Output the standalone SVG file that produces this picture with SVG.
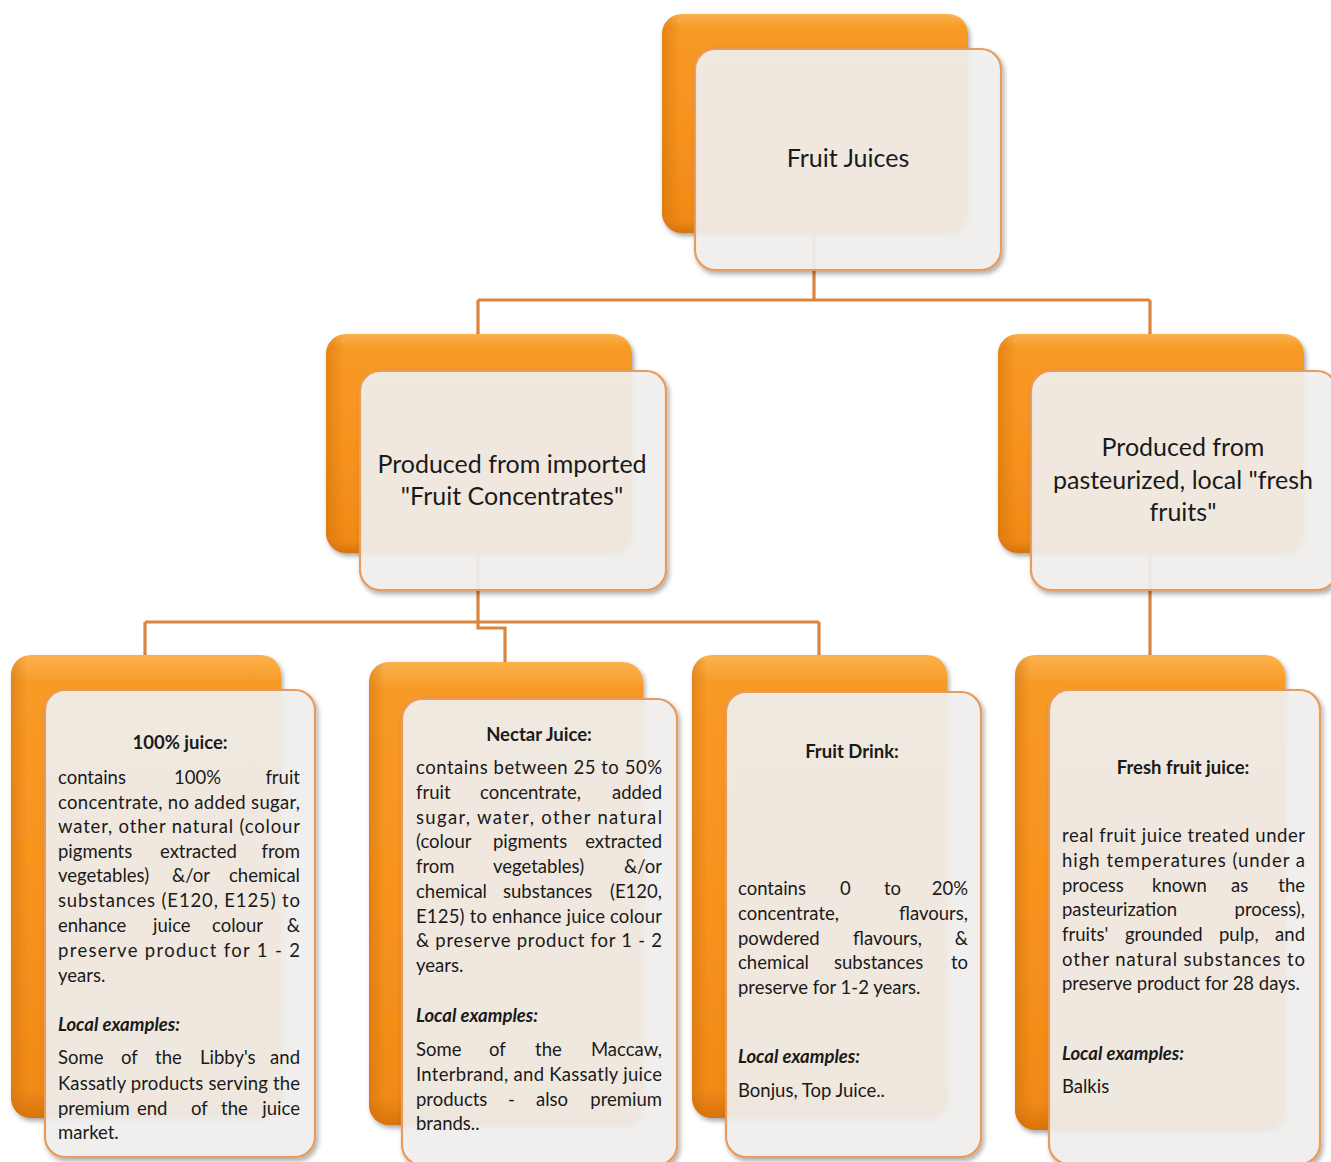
<svg xmlns="http://www.w3.org/2000/svg" width="1331" height="1162" viewBox="0 0 1331 1162">
<defs>
<linearGradient id="og" x1="0" y1="0" x2="0" y2="1">
<stop offset="0" stop-color="#fbb24e"/>
<stop offset="0.06" stop-color="#f89a26"/>
<stop offset="0.5" stop-color="#f7931e"/>
<stop offset="0.94" stop-color="#ef8a17"/>
<stop offset="1" stop-color="#d8730d"/>
</linearGradient>
<linearGradient id="oh" x1="0" y1="0" x2="1" y2="0">
<stop offset="0" stop-color="#c96a0a" stop-opacity="0.45"/>
<stop offset="0.06" stop-color="#c96a0a" stop-opacity="0"/>
<stop offset="1" stop-color="#c96a0a" stop-opacity="0"/>
</linearGradient>
<filter id="sh" x="-10%" y="-10%" width="125%" height="125%">
<feGaussianBlur in="SourceAlpha" stdDeviation="2.5"/>
<feOffset dx="1.5" dy="3" result="b"/>
<feComponentTransfer><feFuncA type="linear" slope="0.35"/></feComponentTransfer>
<feMerge><feMergeNode/><feMergeNode in="SourceGraphic"/></feMerge>
</filter>
</defs>
<style>
.back{fill:url(#og);filter:url(#sh)}
.backs{fill:url(#oh)}
.front{fill:#f3f2f1;fill-opacity:0.9;stroke:#e79b5b;stroke-width:2.2;filter:url(#sh)}
.con{fill:none;stroke:#d9843f;stroke-width:3.2}
text{font-family:Lato,"Liberation Sans",sans-serif;fill:#1a1a1a}
.h{font-size:25px;text-anchor:middle}
.t{font-size:18.5px;font-weight:bold;text-anchor:middle}
.b{font-size:18.5px}
.e{text-anchor:end}
.le{font-size:18.5px;font-weight:bold;font-style:italic}
</style>

<g id="connectors">
<path class="con" d="M814 233 V300 M478 300 H1150 M478 300 V334 M1150 300 V334"/>
<path class="con" d="M478 553 V628 H505 V662 M145 622 H819 M145 622 V655 M819 622 V655"/>
<path class="con" d="M1150 553 V655"/>
</g>

<g id="node-fruit-juices">
<rect class="back" x="662" y="14" width="306" height="219" rx="20"/>
<rect class="backs" x="662" y="14" width="306" height="219" rx="20"/>
<rect class="front" x="695" y="49" width="306" height="221" rx="20"/>
<text class="h" x="848" y="167">Fruit Juices</text>
</g>

<g id="node-concentrates">
<rect class="back" x="326" y="334" width="306" height="219" rx="20"/>
<rect class="backs" x="326" y="334" width="306" height="219" rx="20"/>
<rect class="front" x="360" y="371" width="306" height="219" rx="20"/>
<text class="h" x="512" y="473">Produced from imported</text>
<text class="h" x="512" y="505">"Fruit Concentrates"</text>
</g>

<g id="node-fresh">
<rect class="back" x="998" y="334" width="306" height="219" rx="20"/>
<rect class="backs" x="998" y="334" width="306" height="219" rx="20"/>
<rect class="front" x="1031" y="371" width="306" height="219" rx="20"/>
<text class="h" x="1183" y="456">Produced from</text>
<text class="h" x="1183" y="489">pasteurized, local "fresh</text>
<text class="h" x="1183" y="521">fruits"</text>
</g>

<g id="node-100-juice">
<rect class="back" x="11" y="655" width="270" height="463" rx="20"/>
<rect class="backs" x="11" y="655" width="270" height="463" rx="20"/>
<rect class="front" x="45" y="690" width="270" height="467" rx="20"/>
<text class="t" x="180" y="749">100% juice:</text>
<text class="b" y="784"><tspan x="58">contains</tspan><tspan x="174">100%</tspan></text>
<text class="b e" x="300" y="784">fruit</text>
<text class="b" x="58" y="809" textLength="242" lengthAdjust="spacing">concentrate, no added sugar,</text>
<text class="b" x="58" y="833" textLength="242" lengthAdjust="spacing">water, other natural (colour</text>
<text class="b" y="858"><tspan x="58">pigments</tspan><tspan x="160">extracted</tspan></text>
<text class="b e" x="300" y="858">from</text>
<text class="b" y="882"><tspan x="58">vegetables)</tspan><tspan x="172">&amp;/or</tspan></text>
<text class="b e" x="300" y="882">chemical</text>
<text class="b" x="58" y="907" textLength="242" lengthAdjust="spacing">substances (E120, E125) to</text>
<text class="b" y="932"><tspan x="58">enhance</tspan><tspan x="153">juice</tspan><tspan x="212">colour</tspan></text>
<text class="b e" x="300" y="932">&amp;</text>
<text class="b" x="58" y="957" textLength="242" lengthAdjust="spacing">preserve product for 1 - 2</text>
<text class="b" x="58" y="982">years.</text>
<text class="le" x="58" y="1031">Local examples:</text>
<text class="b" y="1064"><tspan x="58">Some</tspan><tspan x="121">of</tspan><tspan x="155">the</tspan><tspan x="200">Libby's</tspan></text>
<text class="b e" x="300" y="1064">and</text>
<text class="b" x="58" y="1090" textLength="242" lengthAdjust="spacing">Kassatly products serving the</text>
<text class="b" y="1115"><tspan x="58">premium</tspan><tspan x="137">end</tspan><tspan x="191">of</tspan><tspan x="221">the</tspan></text>
<text class="b e" x="300" y="1115">juice</text>
<text class="b" x="58" y="1139">market.</text>
</g>

<g id="node-nectar">
<rect class="back" x="369" y="662" width="274" height="463" rx="20"/>
<rect class="backs" x="369" y="662" width="274" height="463" rx="20"/>
<rect class="front" x="402" y="699" width="275" height="466" rx="20"/>
<text class="t" x="539" y="741">Nectar Juice:</text>
<text class="b" x="416" y="774" textLength="246" lengthAdjust="spacing">contains between 25 to 50%</text>
<text class="b" y="799"><tspan x="416">fruit</tspan><tspan x="480">concentrate,</tspan></text>
<text class="b e" x="662" y="799">added</text>
<text class="b" x="416" y="824" textLength="246" lengthAdjust="spacing">sugar, water, other natural</text>
<text class="b" y="848"><tspan x="416">(colour</tspan><tspan x="493">pigments</tspan></text>
<text class="b e" x="662" y="848">extracted</text>
<text class="b" y="873"><tspan x="416">from</tspan><tspan x="493">vegetables)</tspan></text>
<text class="b e" x="662" y="873">&amp;/or</text>
<text class="b" y="898"><tspan x="416">chemical</tspan><tspan x="503">substances</tspan></text>
<text class="b e" x="662" y="898">(E120,</text>
<text class="b" x="416" y="923" textLength="246" lengthAdjust="spacing">E125) to enhance juice colour</text>
<text class="b" x="416" y="947" textLength="246" lengthAdjust="spacing">&amp; preserve product for 1 - 2</text>
<text class="b" x="416" y="972">years.</text>
<text class="le" x="416" y="1022">Local examples:</text>
<text class="b" y="1056"><tspan x="416">Some</tspan><tspan x="489">of</tspan><tspan x="535">the</tspan></text>
<text class="b e" x="662" y="1056">Maccaw,</text>
<text class="b" x="416" y="1081" textLength="246" lengthAdjust="spacing">Interbrand, and Kassatly juice</text>
<text class="b" y="1106"><tspan x="416">products</tspan><tspan x="508">-</tspan><tspan x="536">also</tspan></text>
<text class="b e" x="662" y="1106">premium</text>
<text class="b" x="416" y="1130">brands..</text>
</g>

<g id="node-fruit-drink">
<rect class="back" x="692" y="655" width="255" height="463" rx="20"/>
<rect class="backs" x="692" y="655" width="255" height="463" rx="20"/>
<rect class="front" x="726" y="692" width="255" height="465" rx="20"/>
<text class="t" x="852" y="758">Fruit Drink:</text>
<text class="b" y="895"><tspan x="738">contains</tspan><tspan x="840">0</tspan><tspan x="884">to</tspan></text>
<text class="b e" x="968" y="895">20%</text>
<text class="b" x="738" y="920">concentrate,</text>
<text class="b e" x="968" y="920">flavours,</text>
<text class="b" y="945"><tspan x="738">powdered</tspan><tspan x="853">flavours,</tspan></text>
<text class="b e" x="968" y="945">&amp;</text>
<text class="b" y="969"><tspan x="738">chemical</tspan><tspan x="834">substances</tspan></text>
<text class="b e" x="968" y="969">to</text>
<text class="b" x="738" y="994">preserve for 1-2 years.</text>
<text class="le" x="738" y="1063">Local examples:</text>
<text class="b" x="738" y="1097">Bonjus, Top Juice..</text>
</g>

<g id="node-fresh-juice">
<rect class="back" x="1015" y="655" width="270" height="475" rx="20"/>
<rect class="backs" x="1015" y="655" width="270" height="475" rx="20"/>
<rect class="front" x="1049" y="690" width="271" height="474" rx="20"/>
<text class="t" x="1183" y="774">Fresh fruit juice:</text>
<text class="b" x="1062" y="842" textLength="243" lengthAdjust="spacing">real fruit juice treated under</text>
<text class="b" x="1062" y="867" textLength="243" lengthAdjust="spacing">high temperatures (under a</text>
<text class="b" y="892"><tspan x="1062">process</tspan><tspan x="1152">known</tspan><tspan x="1231">as</tspan></text>
<text class="b e" x="1305" y="892">the</text>
<text class="b" x="1062" y="916">pasteurization</text>
<text class="b e" x="1305" y="916">process),</text>
<text class="b" y="941"><tspan x="1062">fruits'</tspan><tspan x="1125">grounded</tspan><tspan x="1219">pulp,</tspan></text>
<text class="b e" x="1305" y="941">and</text>
<text class="b" x="1062" y="966" textLength="243" lengthAdjust="spacing">other natural substances to</text>
<text class="b" x="1062" y="990">preserve product for 28 days.</text>
<text class="le" x="1062" y="1060">Local examples:</text>
<text class="b" x="1062" y="1093">Balkis</text>
</g>
</svg>
